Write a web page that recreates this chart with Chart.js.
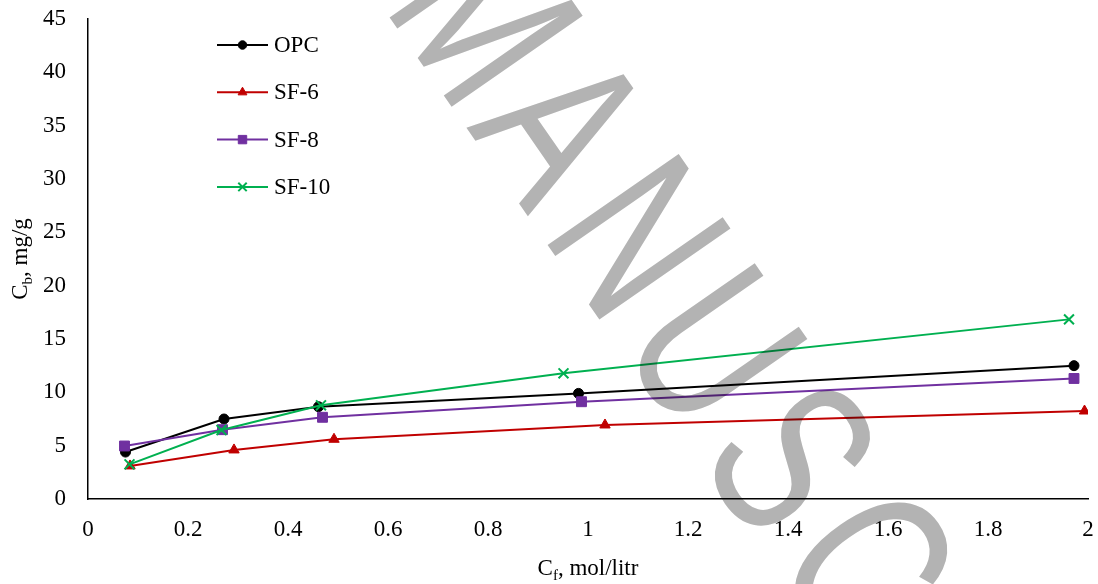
<!DOCTYPE html>
<html>
<head>
<meta charset="utf-8">
<script src="https://cdn.jsdelivr.net/npm/chart.js@4.4.0/dist/chart.umd.min.js"></script>
<style>
  html, body { margin: 0; padding: 0; background: #fff; }
  #wrap { width: 1098px; height: 584px; }
</style>
</head>
<body>
<div id="wrap"><canvas id="isoChart" width="1098" height="584"></canvas></div>
<script>
// series (Cf in mol/litr, Cb in mg/g)
const seriesNames = ['OPC', 'SF-6', 'SF-8', 'SF-10'];
const opcX = [0.075, 0.272, 0.461, 0.981, 1.972];
const opcY = [4.4, 7.5, 8.65, 9.9, 12.5];
const sf6X = [0.084, 0.292, 0.492, 1.034, 1.993];
const sf6Y = [3.1, 4.6, 5.6, 6.94, 8.25];
const sf8X = [0.073, 0.269, 0.469, 0.987, 1.972];
const sf8Y = [4.97, 6.5, 7.66, 9.12, 11.3];
const sf10X = [0.083, 0.267, 0.466, 0.951, 1.962];
const sf10Y = [3.25, 6.47, 8.78, 11.78, 16.84];

const xTicks = [0, 0.2, 0.4, 0.6, 0.8, 1, 1.2, 1.4, 1.6, 1.8, 2];
const yTicks = [0, 5, 10, 15, 20, 25, 30, 35, 40, 45];

const serif = "'Liberation Serif', 'Times New Roman', serif";

const styles = [
    { color: '#000000', point: 'circle', radius: 5 },
    { color: '#C00000', point: 'triangle', radius: 6 },
    { color: '#7030A0', point: 'rect', radius: 7 },
    { color: '#00B050', point: 'crossRot', radius: 7 }
];

function toPoints(xs, ys) {
    return xs.map((x, i) => ({ x: x, y: ys[i] }));
}

const allX = [opcX, sf6X, sf8X, sf10X];
const allY = [opcY, sf6Y, sf8Y, sf10Y];

const datasets = seriesNames.map((name, i) => ({
    label: name,
    data: toPoints(allX[i], allY[i]),
    showLine: true,
    borderColor: styles[i].color,
    backgroundColor: styles[i].color,
    borderWidth: 2,
    pointStyle: styles[i].point,
    pointRadius: styles[i].radius,
    pointBorderWidth: styles[i].point === 'crossRot' ? 2 : 1,
    pointBackgroundColor: styles[i].color,
    pointBorderColor: styles[i].color,
    tension: 0,
    order: seriesNames.length - i
}));

// text with a subscript, e.g. C_b
function drawSubText(ctx, main, sub, rest, x, y, angle) {
    const big = '23px ' + serif;
    const small = '15px ' + serif;
    ctx.save();
    ctx.translate(x, y);
    ctx.rotate(angle);
    ctx.fillStyle = '#000';
    ctx.textBaseline = 'alphabetic';
    ctx.textAlign = 'left';
    ctx.font = big;
    const w1 = ctx.measureText(main).width;
    const w3 = ctx.measureText(rest).width;
    ctx.font = small;
    const w2 = ctx.measureText(sub).width;
    let cx = -(w1 + w2 + w3) / 2;
    ctx.font = big;
    ctx.fillText(main, cx, 0);
    cx += w1;
    ctx.font = small;
    ctx.fillText(sub, cx, 5);
    cx += w2;
    ctx.font = big;
    ctx.fillText(rest, cx, 0);
    ctx.restore();
}

const extras = {
    id: 'extras',
    afterDraw(chart) {
        const ctx = chart.ctx;
        const area = chart.chartArea;
        // axis titles
        drawSubText(ctx, 'C', 'f', ', mol/litr', (area.left + area.right) / 2, 575, 0);
        drawSubText(ctx, 'C', 'b', ', mg/g', 27, (area.top + area.bottom) / 2, -Math.PI / 2);

        // legend inside the plot
        const lx = 217, lw = 51, rowH = 47.3, top = 45;
        chart.data.datasets.forEach((ds, i) => {
            const y = top + i * rowH;
            ctx.save();
            ctx.strokeStyle = ds.borderColor;
            ctx.lineWidth = 2;
            ctx.beginPath();
            ctx.moveTo(lx, y);
            ctx.lineTo(lx + lw, y);
            ctx.stroke();
            ctx.fillStyle = ds.pointBackgroundColor;
            ctx.strokeStyle = ds.pointBorderColor;
            ctx.lineWidth = ds.pointBorderWidth;
            Chart.helpers.drawPoint(ctx, {
                pointStyle: ds.pointStyle,
                radius: ds.pointRadius * 0.85,
                rotation: 0,
                borderWidth: ds.pointBorderWidth
            }, lx + lw / 2, y);
            ctx.fillStyle = '#000';
            ctx.font = '23px ' + serif;
            ctx.textAlign = 'left';
            ctx.textBaseline = 'middle';
            ctx.fillText(ds.label, lx + lw + 6, y + 1);
            ctx.restore();
        });
    }
};

// grey diagonal "ACCEPTED MANUSCRIPT" stamp over the figure
const watermark = {
    id: 'watermark',
    afterDraw(chart) {
        const ctx = chart.ctx;
        const text = 'ACCEPTED MANUSCRIPT';
        const theta = 55.2 * Math.PI / 180;
        const c = Math.cos(theta), s = Math.sin(theta);
        const step = 134, baseT = 310, firstM = 291;
        const mIndex = text.indexOf('M');
        ctx.save();
        ctx.globalCompositeOperation = 'multiply';
        ctx.fillStyle = '#b3b3b3';
        ctx.font = "232px 'Liberation Sans', Arial, sans-serif";
        ctx.textAlign = 'center';
        ctx.textBaseline = 'alphabetic';
        for (let i = 0; i < text.length; i++) {
            const ch = text[i];
            if (ch === ' ') continue;
            const along = firstM + (i - mIndex) * step;
            ctx.save();
            ctx.translate(c * along + s * baseT, s * along - c * baseT);
            ctx.rotate(theta);
            ctx.scale(0.7, 1);
            ctx.fillText(ch, 0, 0);
            ctx.restore();
        }
        ctx.restore();
    }
};

// drop the automatic label padding so the plot box sits where the layout padding says
function noPad(scale) {
    scale.paddingTop = 0;
    scale.paddingBottom = 0;
    scale.paddingLeft = 0;
    scale.paddingRight = 0;
}

const ctx = document.getElementById('isoChart').getContext('2d');
const isoChart = new Chart(ctx, {
    type: 'scatter',
    data: { datasets: datasets },
    options: {
        responsive: false,
        animation: false,
        layout: { padding: { top: 19, right: 10, left: 0, bottom: 0 } },
        plugins: {
            legend: { display: false },
            tooltip: { enabled: false }
        },
        scales: {
            x: {
                type: 'linear',
                min: 0,
                max: 2,
                afterBuildTicks: scale => { scale.ticks = xTicks.map(v => ({ value: v })); },
                afterFit: scale => { scale.height = 85; noPad(scale); },
                grid: { drawOnChartArea: false, drawTicks: false },
                border: { display: true, color: '#000', width: 1.5 },
                ticks: {
                    padding: 17,
                    color: '#000',
                    font: { family: serif, size: 23 },
                    maxRotation: 0,
                    callback: v => String(v)
                }
            },
            y: {
                type: 'linear',
                min: 0,
                max: 45,
                afterBuildTicks: scale => { scale.ticks = yTicks.map(v => ({ value: v })); },
                afterFit: scale => { scale.width = 88; noPad(scale); },
                grid: { drawOnChartArea: false, drawTicks: false },
                border: { display: true, color: '#000', width: 1.5 },
                ticks: {
                    padding: 22,
                    color: '#000',
                    font: { family: serif, size: 23 },
                    callback: v => String(v)
                }
            }
        }
    },
    plugins: [extras, watermark]
});
</script>
</body>
</html>
